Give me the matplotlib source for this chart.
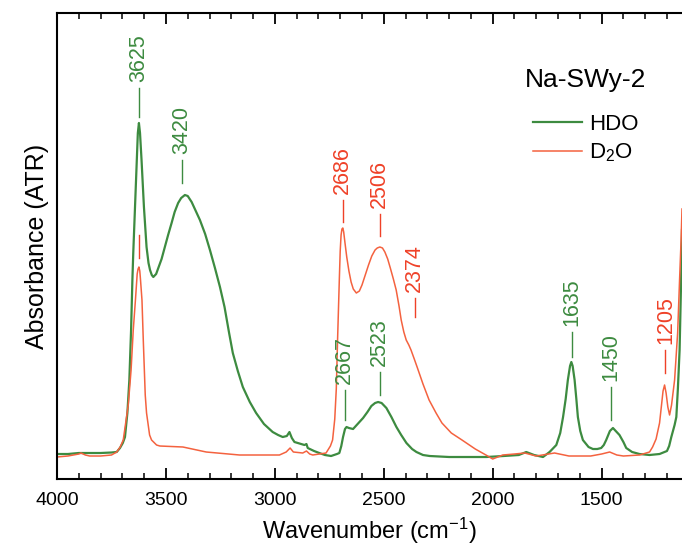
import numpy as np
import matplotlib.pyplot as plt
from matplotlib.ticker import MultipleLocator

plt.rcParams['font.family'] = ['Liberation Sans', 'DejaVu Sans']
plt.rcParams['mathtext.fontset'] = 'custom'
plt.rcParams['mathtext.rm'] = 'Liberation Sans'
plt.rcParams['mathtext.it'] = 'Liberation Sans'

green = '#3d8b40'
red_line = '#f4623f'
red_text = '#ef4128'

# HDO spectrum (wavenumber, absorbance in arbitrary units)
hdo_wn = [4000, 3950, 3900, 3850, 3800, 3750, 3726, 3711, 3698, 3688, 3677, 3668,
          3660, 3654, 3650, 3642, 3634, 3629, 3624, 3619, 3612, 3601, 3589, 3580,
          3573, 3565, 3558, 3545, 3535, 3520, 3505, 3490, 3474, 3460, 3444, 3430,
          3413, 3400, 3382, 3365, 3344, 3320, 3298, 3275, 3252, 3231, 3210, 3193,
          3170, 3147, 3115, 3086, 3050, 3010, 2985, 2964, 2945, 2933, 2922, 2910,
          2880, 2864, 2855, 2849, 2820, 2796, 2770, 2742, 2715, 2704, 2695, 2687,
          2678, 2671, 2660, 2641, 2620, 2595, 2575, 2557, 2540, 2526, 2510, 2488,
          2465, 2442, 2420, 2396, 2370, 2350, 2320, 2289, 2200, 2100, 2029, 1950,
          1880, 1846, 1810, 1769, 1739, 1708, 1690, 1677, 1665, 1655, 1645, 1639,
          1633, 1624, 1616, 1609, 1598, 1586, 1560, 1540, 1520, 1502, 1490, 1479,
          1462, 1448, 1435, 1418, 1400, 1387, 1360, 1326, 1280, 1234, 1200, 1190,
          1180, 1165, 1157, 1150, 1142, 1136, 1131]
hdo_abs = [25, 25, 26, 26, 26, 26.5, 27, 31, 36, 42, 66, 99,
           149, 199, 226, 272, 319, 346, 356, 346, 319, 272, 232, 216,
           209, 204, 202, 205, 211, 220, 232, 244, 256, 267, 276, 281,
           284, 283, 277, 269, 259, 245, 229, 211, 192, 172, 146, 126,
           108, 92, 77, 66, 55, 47, 44, 42, 43, 47, 41, 37,
           35, 34, 35, 31, 28, 26, 24, 23, 25, 26, 33, 42,
           50, 52, 51, 50, 55, 61, 67, 73, 76, 77, 76, 71,
           62, 52, 44, 36, 30, 27, 24, 23, 22, 22, 22, 23,
           24, 27, 24, 22, 27, 34, 46, 62, 80, 99, 113, 117,
           113, 99, 80, 62, 48, 39, 32, 30, 30, 31, 34, 39,
           48, 51, 48, 44, 37, 31, 27, 25, 24, 25, 28, 33,
           42, 54, 62, 90, 129, 189, 249]

# D2O spectrum
d2o_wn = [4000, 3950, 3900, 3890, 3870, 3850, 3800, 3750, 3726, 3710, 3696, 3673,
          3660, 3650, 3640, 3632, 3628, 3624, 3620, 3617, 3610, 3604, 3595, 3589,
          3575, 3566, 3543, 3528, 3422, 3315, 3162, 2979, 2948, 2930, 2915, 2872,
          2855, 2840, 2826, 2765, 2745, 2735, 2725, 2718, 2712, 2708, 2704, 2700,
          2696, 2692, 2688, 2684, 2678, 2670, 2660, 2650, 2640, 2626, 2612, 2600,
          2585, 2570, 2555, 2540, 2530, 2518, 2506, 2495, 2482, 2470, 2456, 2443,
          2430, 2420, 2408, 2397, 2385, 2375, 2360, 2347, 2320, 2292, 2260, 2233,
          2190, 2141, 2080, 2031, 2000, 1954, 1900, 1853, 1800, 1716, 1650, 1550,
          1500, 1463, 1430, 1400, 1326, 1280, 1266, 1250, 1234, 1225, 1218, 1211,
          1204, 1196, 1188, 1179, 1165, 1151, 1142, 1135, 1131]
d2o_abs = [22, 23, 25, 26, 24, 23, 23, 24, 27, 32, 39, 74,
           109, 149, 179, 205, 210, 212, 208, 200, 179, 139, 84, 66,
           44, 39, 34, 33, 32, 27, 24, 24, 27, 31, 27, 26,
           28, 25, 24, 26, 33, 39, 60, 90, 140, 170, 200, 228,
           244, 250, 251, 247, 236, 222, 208, 197, 190, 186, 188, 194,
           204, 214, 223, 229, 231, 232, 231, 227, 220, 211, 200, 189,
           173, 159, 147, 139, 134, 129, 120, 112, 95, 79, 66, 56,
           46, 39, 30, 24, 20, 24, 25, 26, 23, 26, 23, 23,
           25, 27, 24, 23, 24, 27, 32, 40, 56, 74, 88, 94,
           86, 72, 64, 74, 99, 146, 200, 240, 270]

# peak annotations: position, text, series, tick bottom, tick top
peak_wn = [3624, 3428, 3624, 2688, 2518, 2358, 2679, 2518, 1638, 1459, 1207]
peak_text = ['3625', '3420', '', '2686', '2506', '2374', '2667', '2523', '1635', '1450', '1205']
peak_series = ['HDO', 'HDO', 'D2O', 'D2O', 'D2O', 'D2O', 'HDO', 'HDO', 'HDO', 'HDO', 'D2O']
tick_lo = [362, 296, 221, 257, 243, 162, 59, 84, 122, 59, 106]
tick_hi = [391, 319, 244, 279, 265, 181, 89, 107, 147, 92, 129]

fig = plt.figure(figsize=(6.82, 5.46), dpi=100)
ax = fig.add_axes([0.0836, 0.1227, 0.9164, 0.8535])

ax.plot(hdo_wn, hdo_abs, color=green, lw=1.6, label='HDO')
ax.plot(d2o_wn, d2o_abs, color=red_line, lw=1.1, label='D$_2$O')

for wn, txt, s, lo, hi in zip(peak_wn, peak_text, peak_series, tick_lo, tick_hi):
    c = green if s == 'HDO' else red_text
    ax.plot([wn, wn], [lo, hi], color=c, lw=1.0)
    if txt:
        ax.text(wn, hi + 6, txt, rotation=90, ha='center', va='bottom',
                color=c, fontsize=15.5)

ax.set_xlim(4000, 1131)
ax.set_ylim(0, 466)
ax.xaxis.set_major_locator(MultipleLocator(500))
ax.xaxis.set_minor_locator(MultipleLocator(100))
ax.tick_params(axis='x', which='both', direction='in', top=True, bottom=True,
               labelsize=14, pad=9)
ax.tick_params(axis='x', which='major', length=8, width=1.3)
ax.tick_params(axis='x', which='minor', length=4.5, width=1.1)
ax.set_yticks([])
for side in ['left', 'top', 'bottom']:
    ax.spines[side].set_linewidth(1.5)
ax.spines['right'].set_visible(False)

ax.set_xlabel('Wavenumber (cm$^{-1}$)', fontsize=17, labelpad=5)
ax.set_ylabel('Absorbance (ATR)', fontsize=18, labelpad=6)

leg = ax.legend(title='Na-SWy-2', loc='upper right', bbox_to_anchor=(0.975, 0.925),
                frameon=False, fontsize=16, title_fontsize=19, handlelength=2.2,
                handletextpad=0.3, labelspacing=0.3)
leg._legend_box.sep = 16

fig.savefig('out.png', dpi=100)
